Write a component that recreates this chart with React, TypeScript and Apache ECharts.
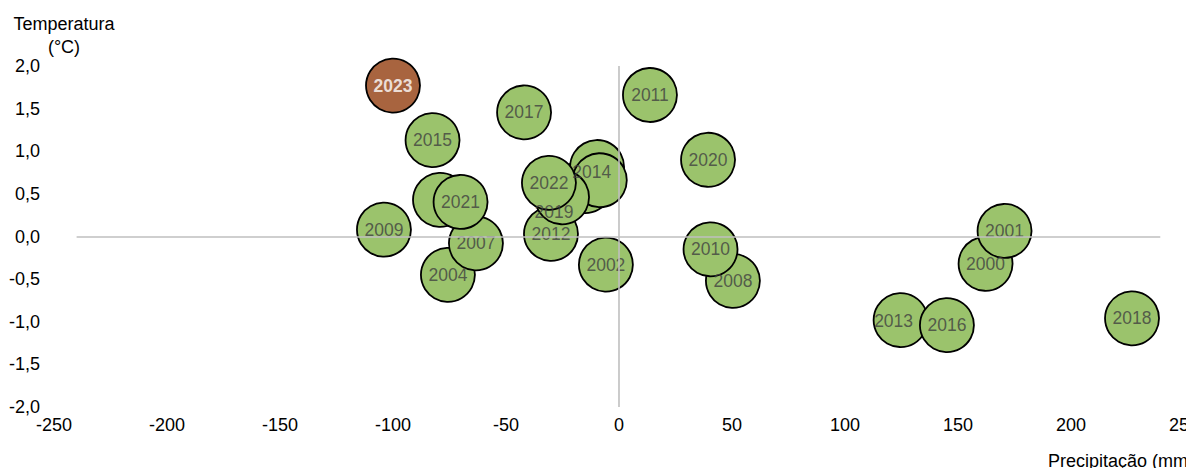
import React, { useEffect, useRef } from "react";
import * as echarts from "echarts";

const years = [2000, 2001, 2002, 2003, 2004, 2005, 2006, 2007, 2008, 2009, 2010, 2011, 2012, 2013, 2014, 2015, 2016, 2017, 2018, 2019, 2020, 2021, 2022, 2023];
const precipitation = [162.2, 170.6, -5.8, -79.2, -75.7, -15, -9.7, -63.3, 50.4, -104, 40.5, 13.7, -30.1, 124.6, -8.5, -82.5, 145.1, -42, 227, -25.2, 39.4, -70.1, -31, -100];
const temperature = [-0.32, 0.065, -0.33, 0.43, -0.45, 0.59, 0.815, -0.08, -0.52, 0.08, -0.15, 1.66, 0.03, -0.98, 0.66, 1.13, -1.04, 1.455, -0.96, 0.46, 0.9, 0.405, 0.63, 1.77];
const hiddenLabels = [2003, 2005, 2006];
const highlightYear = 2023;
const xTicks = { min: -250, max: 250, interval: 50 };
const yTicks = { min: -2, max: 2, interval: 0.5 };

// manually moved data labels (pixel offsets), as in the original
const labelOffsets: Record<number, [number, number]> = {
  2019: [-8, 15],
  2014: [-8, -8],
  2013: [-7, 1],
};

const FONT = "Liberation Sans, Arial, sans-serif";
const GREEN = "#9BC36C";
const BROWN = "#A8643F";

export default function App() {
  const ref = useRef<HTMLDivElement>(null);
  useEffect(() => {
    if (!ref.current) return;
    const chart = echarts.init(ref.current, null, { renderer: "svg" });
    const bubbleData = years.map((y, i) => ({
      value: [precipitation[i], temperature[i]],
      name: String(y),
      itemStyle: { color: y === highlightYear ? BROWN : GREEN },
    }));
    const labelData = years
      .map((y, i) => ({ y, i }))
      .filter(({ y }) => !hiddenLabels.includes(y))
      .map(({ y, i }) => ({
        value: [precipitation[i], temperature[i]],
        name: String(y),
        label: {
          ...(y === highlightYear
            ? { color: "#FFFFFF", fontWeight: "bold" as const }
            : { color: "#404040" }),
          offset: labelOffsets[y] || [0, 0],
        },
      }));
    chart.setOption({
      animation: false,
      grid: { left: 46, right: 10, top: 58, bottom: 61, outerBoundsMode: "none", containLabel: false },
      xAxis: {
        type: "value",
        min: xTicks.min,
        max: xTicks.max,
        interval: xTicks.interval,
        axisLine: { show: false },
        axisTick: { show: false },
        splitLine: { show: false },
        axisLabel: { color: "#000", fontSize: 18, fontFamily: FONT, margin: 9, hideOverlap: false },
      },
      yAxis: {
        type: "value",
        min: yTicks.min,
        max: yTicks.max,
        interval: yTicks.interval,
        axisLine: { show: false },
        axisTick: { show: false },
        splitLine: { show: false },
        axisLabel: {
          color: "#000",
          fontSize: 18,
          fontFamily: FONT,
          margin: 14,
          formatter: (v: number) => v.toFixed(1).replace(".", ","),
        },
      },
      graphic: [
        {
          type: "text",
          x: 56,
          y: 4,
          style: {
            text: "Temperatura\n(°C)",
            textAlign: "center",
            font: `18px ${FONT}`,
            lineHeight: 23,
            fill: "#000",
          },
        },
        {
          type: "text",
          x: 1040,
          y: 444,
          style: {
            text: "Precipitação (mm)",
            textAlign: "left",
            font: `18px ${FONT}`,
            fill: "#000",
          },
        },
      ],
      series: [
        {
          type: "scatter",
          z: 1,
          data: [],
          silent: true,
          markLine: {
            silent: true,
            symbol: "none",
            label: { show: false },
            lineStyle: { color: "#BFBFBF", width: 1.6, type: "solid" },
            data: [
              [{ coord: [-240, 0] }, { coord: [239.5, 0] }],
              [{ coord: [0, yTicks.min] }, { coord: [0, yTicks.max] }],
            ],
          },
        },
        {
          type: "scatter",
          z: 2,
          symbolSize: 54,
          data: bubbleData,
          itemStyle: { borderColor: "#000", borderWidth: 1.8, opacity: 1 },
          label: { show: false },
        },
        {
          type: "scatter",
          z: 3,
          symbol: "circle",
          symbolSize: 2,
          silent: true,
          data: labelData,
          itemStyle: { color: "rgba(0,0,0,0)" },
          label: {
            show: true,
            position: "inside",
            formatter: "{b}",
            fontSize: 17.5,
            fontFamily: FONT,
          },
        },
      ],
    });
    return () => chart.dispose();
  }, []);
  return <div ref={ref} style={{ width: 1186, height: 460 }} />;
}
